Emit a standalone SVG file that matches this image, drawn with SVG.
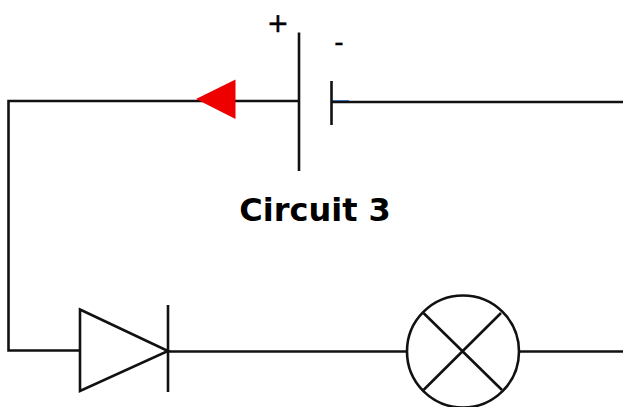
<svg xmlns="http://www.w3.org/2000/svg" width="623" height="407" viewBox="0 0 623 407">
<style>
.w{fill:none;stroke:#111;stroke-width:2.6}
.s{fill:#fff;stroke:#111;stroke-width:2.6}
text{font-family:"DejaVu Sans",Verdana,sans-serif;fill:#000}
</style>
<rect width="623" height="407" fill="#fff"/>
<g id="connectors">
<path class="w" d="M299 101H8.500V350.500H80"/>
<path class="w" d="M331 102H623"/>
<path d="M331 100.500H349" fill="none" stroke="#3a6fc0" stroke-width="1"/>
<path class="w" d="M168 351.500H407"/>
<path class="w" d="M520 351.500H623"/>
</g>
<g id="arrow"><polygon points="196,99 235.500,79.500 235.500,119" fill="#ee0000"/></g>
<g id="battery">
<path class="w" d="M299 32.500V171"/>
<path class="w" d="M331.500 81V125"/>
<text x="278" y="32" font-size="26" text-anchor="middle" stroke="#000" stroke-width=".5">+</text>
<text x="339" y="51" font-size="26" text-anchor="middle" stroke="#000" stroke-width=".3">-</text>
</g>
<g id="label"><text x="315" y="221" font-size="32" font-weight="700" text-anchor="middle">Circuit 3</text></g>
<g id="diode">
<polygon class="s" points="80,309.500 168,351 80,391"/>
<path class="w" d="M168 305V392"/>
</g>
<g id="lamp">
<circle class="s" cx="463" cy="351.500" r="56"/>
<path class="w" d="M423.500 313L502 390M501 313L423.500 390"/>
</g>
</svg>
